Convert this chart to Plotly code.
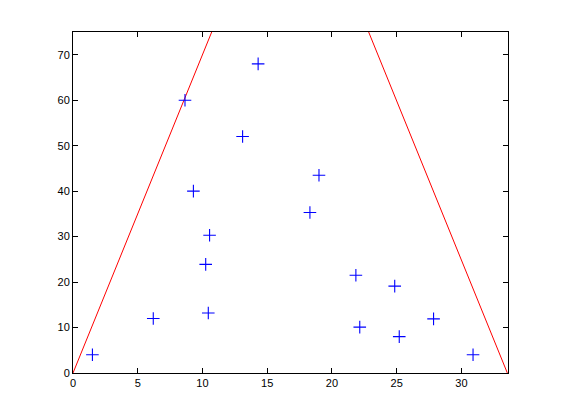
import plotly.graph_objects as go

# scattered points
pts_x = [1.5, 6.2, 10.55, 10.25, 10.45, 8.65, 9.3, 13.1, 14.3, 19.0, 18.3,
         21.85, 22.15, 24.85, 25.2, 27.85, 30.9]
pts_y = [4, 12, 30.3, 23.9, 13.2, 60, 40, 52, 68, 43.5, 35.3,
         21.5, 10.1, 19.1, 8, 11.9, 4]

# boundary lines (clipped by the axes)
left_x = [0, 12]
left_y = [0, 84]
right_x = [21.55, 33.55]
right_y = [84, 0]

fig = go.Figure()

fig.add_trace(go.Scatter(x=left_x, y=left_y, mode="lines",
                         line=dict(color="red", width=1)))
fig.add_trace(go.Scatter(x=right_x, y=right_y, mode="lines",
                         line=dict(color="red", width=1)))
fig.add_trace(go.Scatter(
    x=pts_x, y=pts_y, mode="markers",
    marker=dict(symbol="cross-thin-open", size=9, color="blue",
                line=dict(color="blue", width=1.1)),
))

axis_style = dict(
    showgrid=False, zeroline=False, showline=True, linecolor="black",
    linewidth=1, mirror="allticks", ticks="inside", ticklen=5,
    tickcolor="black", tickfont=dict(family="Liberation Sans", size=11, color="black"),
)

# page body adds an 8px offset, so margins are shifted accordingly
fig.update_layout(
    width=561, height=420,
    margin=dict(l=65, r=61, t=24, b=55),
    plot_bgcolor="white", paper_bgcolor="white",
    showlegend=False,
    xaxis=dict(range=[0, 33.6], tickvals=[0, 5, 10, 15, 20, 25, 30], **axis_style),
    yaxis=dict(range=[0, 75], tickvals=[0, 10, 20, 30, 40, 50, 60, 70], **axis_style),
)

fig.write_html("out.html")
